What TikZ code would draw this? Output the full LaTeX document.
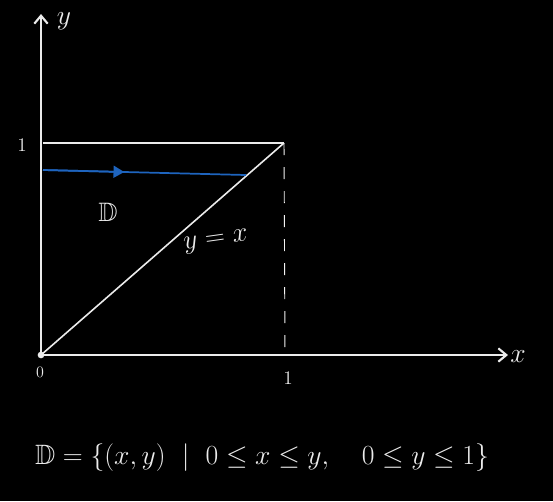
\documentclass[tikz,border=0pt]{standalone}
\usepackage{amsmath,amssymb}
\usetikzlibrary{arrows.meta,calc}
\definecolor{penblue}{RGB}{30,100,190}
\definecolor{chalk}{RGB}{235,235,235}
\tikzset{
  axis/.style={chalk, line width=1.6pt, -{Straight Barb[length=6pt,width=10pt]}},
  chalkline/.style={chalk, line width=1.5pt},
  lbl/.style={text=chalk, inner sep=1pt},
}
\begin{document}
\begin{tikzpicture}[x=0.75pt,y=-0.75pt]
\fill[black] (0,0) rectangle (553,501);
\useasboundingbox (0,0) rectangle (553,501);
\coordinate (O) at (41,355);
\coordinate (ytop) at (41,14);
\coordinate (xend) at (508,355);
\coordinate (P) at (284,143);
\coordinate (Q) at (43,143);
\coordinate (R) at (285,355);
\coordinate (B1) at (43,170);
\coordinate (B2) at (246,175);
\draw[axis] (O) -- (ytop);
\draw[axis] (O) -- (xend);
\draw[chalkline] (Q) -- (P);
\draw[chalkline, line width=1.2pt] (O) -- (P);
\draw[chalk!60, line width=0.7pt, dash pattern=on 9pt off 9pt] (P) -- (R);
\fill[chalk] (O) circle (2.5pt);
\draw[penblue, line width=1.3pt] (B1) -- (B2);
\draw[penblue, -{Triangle[length=8pt,width=9pt]}, line width=1.3pt] (B1) -- ($(B1)!0.4!(B2)$);
\node[lbl, font=\fontsize{20}{24}\selectfont] (ylab) at (64,21) {$y$};
\node[lbl, font=\fontsize{20}{24}\selectfont] (xlab) at (518,357) {$x$};
\node[lbl, font=\fontsize{15}{18}\selectfont] (one-y) at (22,145) {$1$};
\node[lbl, font=\fontsize{15}{18}\selectfont] (one-x) at (288,378) {$1$};
\node[lbl, font=\fontsize{13}{15}\selectfont] (zero) at (40,372) {$0$};
\node[lbl, font=\fontsize{20}{24}\selectfont] (D) at (108,212) {$\mathbb{D}$};
\node[lbl, font=\fontsize{20}{24}\selectfont, rotate=8] (yx) at (216,242) {$y=x$};
\node[lbl, font=\fontsize{21}{25}\selectfont] (set) at (262,458) {$\mathbb{D}=\{(x,y)\ \mid\ 0\le x\le y,\quad 0\le y\le 1\}$};
\end{tikzpicture}
\end{document}
